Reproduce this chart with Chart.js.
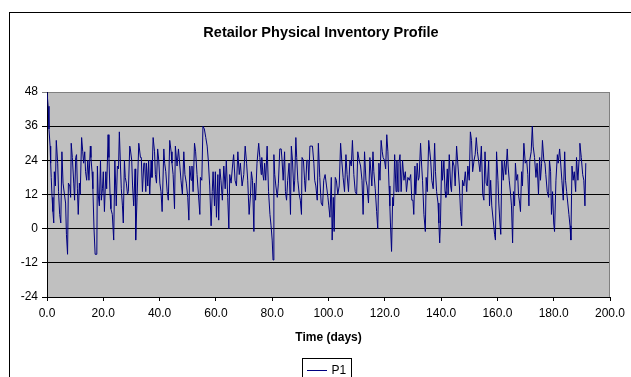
<!DOCTYPE html>
<html>
<head>
<meta charset="utf-8">
<script src="https://cdn.jsdelivr.net/npm/chart.js@4"></script>
<style>
  html, body { margin: 0; padding: 0; background: #fff; }
  canvas { display: block; }
</style>
</head>
<body>
<canvas id="chart" width="631" height="377"></canvas>
<script>
// time axis (days) and retailer inventory
var days = [
	0, 0.4, 0.7, 1.1, 1.3, 1.5, 1.8, 2.1, 2.4, 2.6,
	3.0, 3.3, 3.8, 4.1, 4.5, 4.9, 5.3, 5.7, 6.2, 6.6,
	6.9, 7.3, 7.6, 8.1, 8.4, 8.6, 9.0, 9.5, 9.8, 10.2,
	10.5, 10.8, 11.1, 11.5, 11.8, 12.3, 12.7, 13.0, 13.4, 13.7,
	14.1, 14.5, 14.9, 15.4, 15.6, 16.0, 16.3, 16.7, 17.1, 17.7,
	17.9, 18.2, 18.6, 19.0, 19.3, 19.7, 20.0, 20.4, 20.9, 21.2,
	21.7, 22.0, 22.4, 22.7, 23.2, 23.7, 24.1, 24.4, 24.6, 25.0,
	25.4, 25.7, 26.1, 26.4, 26.8, 27.1, 27.5, 27.8, 28.2, 28.6,
	28.9, 29.4,
	29.6, 30.1, 30.4, 30.8, 31.3, 31.5, 32.0, 32.6, 33.2, 33.5,
	33.9, 34.4, 34.7, 35.1, 35.3, 35.8, 36.1, 36.5, 37.0, 37.3,
	37.7, 38.2, 38.5, 38.9, 39.3, 39.7, 40.1, 40.5, 40.9, 41.5,
	41.8, 42.2, 42.7, 43.1, 43.6, 44.1, 44.4, 44.8, 45.3, 45.6,
	46.2, 46.7, 47.2, 47.6, 48.1, 48.6, 49.0, 49.5, 50.0, 50.4,
	50.7, 51.2, 51.5, 51.9, 52.4, 52.8, 53.3, 53.8, 54.3, 54.5,
	55.0, 55.4, 55.9, 56.4, 56.9, 57.3, 57.8, 58.3, 58.7, 59.0,
	59.5, 59.8, 60.2, 60.7, 61.0, 61.4, 61.8, 62.3, 62.8, 63.3,
	63.7, 64.2, 64.6, 64.9, 65.4, 65.9, 66.3, 66.8, 67.3, 67.8,
	68.3, 68.7, 69.3, 69.9, 70.4, 70.9, 71.3, 71.8, 72.3,
	72.6, 73.0, 73.5, 73.7, 74.1, 74.6, 75.2, 75.6, 76.1, 76.3,
	76.7, 77.0, 77.3, 77.7, 78.2, 78.7, 79.2, 79.6, 80.0, 80.3,
	80.6, 80.9, 81.3, 81.8, 82.2, 82.7, 83.2, 83.5, 83.9, 84.4,
	84.7, 85.1, 85.5, 86.0, 86.5, 86.8, 87.2, 87.7, 88.0, 88.4,
	88.7, 89.1, 89.6, 90.0, 90.4, 90.6, 91.1, 91.5, 91.8, 92.3,
	92.7, 93.0, 93.4, 93.8, 94.3, 94.8, 95.1, 95.5, 96.0, 96.4,
	96.9, 97.4, 97.9, 98.3, 98.8, 99.3, 99.8, 100.1, 100.5, 101.0,
	101.3, 101.7, 102.0, 102.4, 102.8, 103.3, 103.8, 104.3, 104.7, 105.2,
	105.7, 106.2, 106.6, 107.1, 107.6, 108.1, 108.5, 109.0, 109.5, 110.0,
	110.4, 110.9, 111.4, 111.9, 112.3, 112.8, 113.3, 113.7, 114.2, 114.7,
	115.4, 115.8, 116.1, 116.6, 117.1, 117.5, 117.9, 118.3, 118.7, 119.1,
	119.4, 119.9, 120.3, 120.7, 121.1, 121.5, 121.8, 122.0, 122.4, 122.8,
	123.1, 123.5, 124.0, 124.3, 124.7, 125.0, 125.4, 125.8, 126.3, 126.8,
	127.3, 127.7, 128.2, 128.7, 129.2, 129.6, 130.0, 130.3, 130.7, 131.0,
	131.5, 131.9, 132.2, 132.7, 133.1, 133.4, 133.9, 134.4, 134.7, 135.1,
	135.6, 135.9, 136.3, 136.7, 137.2, 137.7, 138.0, 138.4, 138.9, 139.2,
	139.5, 139.8, 140.2, 140.5, 141.0, 141.4, 141.7, 142.2, 142.5, 142.9,
	143.4, 143.7, 144.1, 144.6, 145.0, 145.5, 146.0, 146.5, 146.9, 147.3,
	147.6, 148.1, 148.6, 149.1, 149.5, 150.0, 150.4, 150.8, 151.2, 151.7,
	152.1, 152.5, 152.9, 153.3, 153.8, 154.3, 154.8, 155.2, 155.6, 156.0,
	156.4, 156.9, 157.2, 157.6,
	158.0, 158.5, 159.0, 159.3, 159.7, 160.2, 160.5, 160.9, 161.2, 161.6,
	162.1, 162.5, 163.0, 163.5, 163.8, 164.2, 164.7, 165.0, 165.4, 165.7,
	166.1, 166.4, 166.8, 167.2, 167.5, 167.9, 168.2, 168.6, 168.9, 169.4,
	169.9, 170.4, 170.8, 171.2, 171.5, 172.0, 172.4, 172.7, 173.2, 173.7,
	174.1, 174.6, 175.0, 175.3, 175.7, 176.0, 176.5, 176.9, 177.2, 177.7,
	178.2, 178.5, 178.9, 179.2, 179.6, 180.0, 180.3, 180.8, 181.3, 181.6,
	182.1, 182.4, 182.9, 183.4, 183.9, 184.2, 184.6, 185.0, 185.4, 185.8,
	186.1, 186.5, 186.9, 187.3, 187.8, 188.1, 188.6, 189.0, 189.3, 189.8,
	190.3, 190.7, 191.1, 191.4
];

var inventory = [
	48, 43, 35, 29, 23, 18, 11, 6, 2, 20,
	15, 31, 23, 13, 5, 2, 27, 16, 12, 9,
	-2, -9, 16, 15, 11, 30, 25, 16, 10, 25,
	26, 14, 5, 16, 12, 32, 27, 23, 27, 20,
	17, 24, 17, 29, 25, 20, 14, 0, -9, -9,
	22, 12, 8, 24, 10, 14, 20, 6, 20, 14,
	33, 25, 12, 7, 5, -4, 24, 15, 8, 22,
	21, 34, 22, 14, 8, 2, 24, 18, 16, 12,
	13, 29,
	28, 24, 15, 8, 21, -4, 11, 30, 25, 25,
	13, 23, 23, 13, 23, 15, 24, 12, 24, 18,
	32, 27, 19, 16, 28, 24, 16, 13, 6, 28,
	23, 20, 13, 10, 31, 27, 23, 19, 7, 29,
	22, 28, 22, 17, 12, 27, 19, 16, 11, 3,
	22, 17, 22, 13, 30, 27, 19, 12, 5, 18,
	17, 36, 35, 32, 29, 24, 15, 1, 13, 20,
	8, 20, 4, 19, 3, 21, 17, 10, 22, 14,
	24, 11, 0, 19, 16, 22, 26, 17, 15, 27,
	19, 23, 15, 19, 29, 23, 17, 5, 12,
	20, 17, -1, 16, 10, 23, 30, 25, 19, 25,
	19, 17, 23, 17, 29, 13, 5, 1, -4, -11,
	26, 19, 15, 11, 16, 28, 28, 24, 17, 27,
	13, 10, 17, 23, 5, 29, 24, 13, 17, 32,
	25, 17, 12, 10, 5, 25, 24, 17, 13, 24,
	24, 17, 29, 29, 29, 23, 17, 15, 10, 30,
	18, 9, 8, 17, 19, 15, 11, 8, 4, 18,
	-4, 11, -1, 18, 17, 12, 15, 30, 24, 18,
	13, 26, 19, 13, 24, 22, 31, 19, 13, 12,
	27, 24, 22, 17, 5, 27, 17, 15, 9, 25,
	15, 27, 20, 14, 6, 0, 23, 17, 31, 27,
	25, 24, 21, 33, 27, 15, 8, 2, -8, 11,
	8, 26, 13, 24, 13, 23, 26, 13, 24, 17,
	20, 13, 18, 17, 19, 10, 10, 5, 22, 12,
	23, 17, 18, 30, 22, 17, 5, -1, 18, 13,
	31, 28, 24, 17, 14, 30, 20, 13, 9, 2,
	-5, 3, 24, 17, 24, 13, 11, 21, 12, 26,
	15, 13, 24, 22, 15, 29, 22, 15, 6, 1,
	17, 15, 20, 13, 22, 17, 34, 31, 20, 24,
	26, 32, 27, 24, 20, 29, 12, 10, 27, 16,
	15, 24, 8, 17,
	8, 3, -2, -4, 27, 17, 9, 2, -2, 24,
	17, 24, 19, 28, 22, 17, 12, 8, -5, 13,
	8, 23, 17, 19, 12, 9, 6, 20, 15, 30,
	23, 24, 19, 8, 24, 27, 36, 29, 25, 18,
	23, 12, 25, 17, 23, 31, 24, 23, 19, 13,
	11, 24, 20, 5, 13, 2, -1, 17, 26, 23,
	28, 24, 17, 10, 27, 17, 13, 9, 5, 1,
	-4, 22, 17, 20, 13, 25, 17, 24, 30, 25,
	19, 17, 8, 23
];

var yTicks = [-24, -12, 0, 12, 24, 36, 48];
var xTicks = [0, 20, 40, 60, 80, 100, 120, 140, 160, 180, 200];
var seriesName = 'P1';
var chartTitle = 'Retailor Physical Inventory Profile';
var xTitle = 'Time (days)';

var FONT = '"Liberation Sans", Arial, sans-serif';
var LINE = '#000080';

var points = new Array();
for (var i = 0; i < Math.min(days.length, inventory.length); i++) {
	points.push({ x: days[i], y: inventory[i] });
}

// plot background, frame, title and legend box in the Excel style
var excelLook = {
	id: 'excelLook',
	beforeDraw: function(chart) {
		var ctx = chart.ctx, a = chart.chartArea;
		ctx.save();
		ctx.fillStyle = '#fff';
		ctx.fillRect(0, 0, chart.width, chart.height);
		ctx.fillStyle = '#c0c0c0';
		ctx.fillRect(a.left, a.top, a.right - a.left, a.bottom - a.top);
		ctx.restore();
	},
	afterDraw: function(chart) {
		var ctx = chart.ctx, a = chart.chartArea;
		ctx.save();
		ctx.lineWidth = 1;
		ctx.strokeStyle = '#808080';
		ctx.beginPath();
		ctx.moveTo(Math.round(a.right) - 0.5, a.top);
		ctx.lineTo(Math.round(a.right) - 0.5, a.bottom);
		ctx.stroke();

		ctx.strokeStyle = '#000';
		ctx.strokeRect(9.5, 12.5, 800, 600);

		ctx.fillStyle = '#000';
		ctx.font = 'bold 14.5px ' + FONT;
		ctx.textAlign = 'center';
		ctx.textBaseline = 'middle';
		ctx.fillText(chartTitle, 321, 32.5);

		ctx.strokeRect(302.5, 358.5, 49, 40);
		ctx.strokeStyle = LINE;
		ctx.beginPath();
		ctx.moveTo(307, 370.5);
		ctx.lineTo(327, 370.5);
		ctx.stroke();
		ctx.font = '12px ' + FONT;
		ctx.textAlign = 'left';
		ctx.fillText(seriesName, 331.5, 371);
		ctx.restore();
	}
};

new Chart(document.getElementById('chart'), {
	type: 'line',
	data: {
		datasets: [{
			label: seriesName,
			data: points,
			borderColor: LINE,
			borderWidth: 1,
			pointRadius: 0,
			tension: 0,
			fill: false
		}]
	},
	options: {
		responsive: false,
		animation: false,
		layout: { padding: { left: 0, right: 21, top: 92, bottom: 30 } },
		plugins: {
			legend: { display: false },
			title: { display: false },
			tooltip: { enabled: false }
		},
		scales: {
			x: {
				type: 'linear',
				min: xTicks[0],
				max: xTicks[xTicks.length - 1],
				afterBuildTicks: function(s) { s.ticks = xTicks.map(function(v) { return { value: v }; }); },
				afterFit: function(s) { s.height = 50; },
				ticks: {
					color: '#000',
					font: { family: FONT, size: 12 },
					padding: 5,
					maxRotation: 0,
					autoSkip: false,
					callback: function(v) { return v.toFixed(1); }
				},
				grid: { drawOnChartArea: false, drawTicks: true, tickLength: 4, color: '#000' },
				border: { color: '#000' },
				title: {
					display: true,
					text: xTitle,
					color: '#000',
					font: { family: FONT, size: 12, weight: 'bold' },
					padding: { top: 0, bottom: 2 }
				}
			},
			y: {
				min: yTicks[0],
				max: yTicks[yTicks.length - 1],
				afterBuildTicks: function(s) { s.ticks = yTicks.map(function(v) { return { value: v }; }); },
				afterFit: function(s) { s.width = 47; },
				ticks: {
					color: '#000',
					font: { family: FONT, size: 12 },
					padding: 4
				},
				grid: {
					color: function(c) { return c.tick && c.tick.value === 48 ? '#808080' : '#000'; },
					tickLength: 5
				},
				border: { color: '#000' }
			}
		}
	},
	plugins: [excelLook]
});
</script>
</body>
</html>
